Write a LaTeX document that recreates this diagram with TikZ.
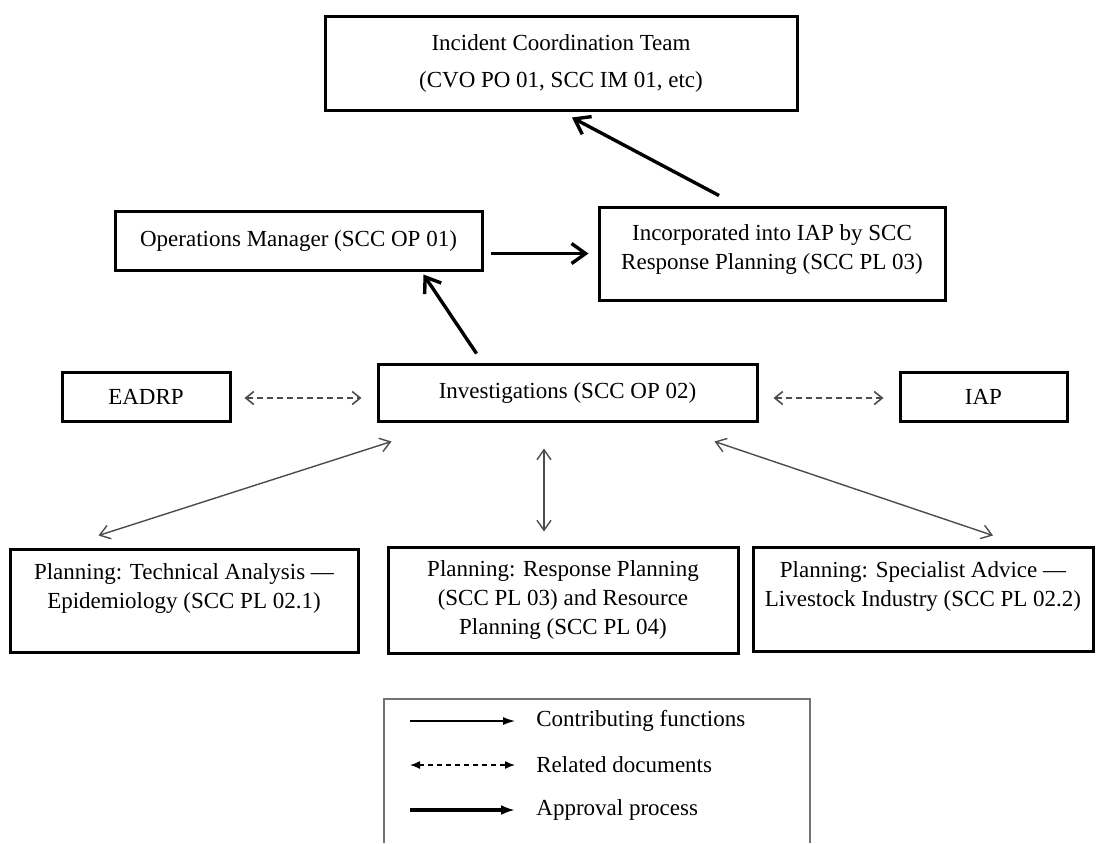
\documentclass[tikz,border=0pt]{standalone}
\usepackage{fontspec}
\setmainfont{Liberation Serif}
\usetikzlibrary{arrows.meta,calc}

\definecolor{linkgray}{gray}{0.3}
\definecolor{framegray}{gray}{0.45}

\newcommand\txtfont{\fontsize{11.5}{14.5}\selectfont}
\newcommand\boxnode[6]{
		\node (#1) at (#2,#3) [box,minimum width=#4*0.5pt,minimum height=#5*0.5pt] {#6};
	}

\tikzset{
	box/.style={draw,line width=1.5pt,align=center,inner sep=0pt,font=\txtfont},
	approve/.style={line width=1.7pt,-{Straight Barb[length=7pt,width=10pt]}},
	contrib/.style={draw=linkgray,line width=0.7pt,{Straight Barb[length=5pt,width=7pt]}-{Straight Barb[length=5pt,width=7pt]}},
	related/.style={draw=linkgray,line width=0.8pt,dash pattern=on 3pt off 2pt,{Straight Barb[length=4pt,width=6.5pt]}-{Straight Barb[length=4pt,width=6.5pt]}},
	legcontrib/.style={line width=0.6pt,-{Latex[length=6pt,width=4pt]}},
	legrelated/.style={line width=0.7pt,dash pattern=on 2.5pt off 2pt,{Latex[length=5pt,width=4pt]}-{Latex[length=5pt,width=4pt]}},
	legapprove/.style={line width=1.8pt,-{Latex[length=7pt,width=5pt]}}
}

\begin{document}
\begin{tikzpicture}[x=0.5pt,y=-0.5pt]
		\useasboundingbox (0,0) rectangle (1099,843);

		% draw top boxes
		\boxnode{ict}{561}{63}{472}{94}{Incident Coordination Team\\[4pt](CVO PO 01, SCC IM 01, etc)}
		\boxnode{ops}{298.5}{240.5}{367}{59}{Operations Manager (SCC OP 01)}
		\boxnode{inc}{772}{253.5}{346}{93}{Incorporated into IAP by SCC\\Response Planning (SCC PL 03)\\[-8pt]\mbox{}}

		% draw middle row
		\boxnode{inv}{567.5}{392.5}{379}{57}{Investigations (SCC OP 02)}
		\boxnode{eadrp}{146}{396.5}{168}{49}{EADRP}
		\boxnode{iap}{983.5}{396.5}{167}{49}{IAP}

		% draw planning boxes
		\boxnode{plan1}{184}{600.5}{348}{103}{Planning: Technical Analysis —\\Epidemiology (SCC PL 02.1)\\\mbox{}}
		\boxnode{plan2}{563}{600}{350}{106}{Planning: Response Planning\\(SCC PL 03) and Resource\\Planning (SCC PL 04)}
		\boxnode{plan3}{923}{599}{340}{104}{Planning: Specialist Advice —\\Livestock Industry (SCC PL 02.2)\\\mbox{}}

		% draw approval arrows
		\draw[approve] ($(inc.north)+(-53,-10)$) -- ($(ict.south)+(11,6)$);
		\draw[approve] ($(ops.east |- inc.west)+(7,0)$) -- ($(inc.west)+(-9,0)$);
		\draw[approve] ($(inv.north west)+(100,-9)$) -- ($(ops.south east)+(-60,3)$);

		% draw related documents
		\draw[related] ($(eadrp.east)+(13,1.5)$) -- ($(eadrp.east -| inv.west)+(-15,1.5)$);
		\draw[related] ($(iap.west -| inv.east)+(15,1.5)$) -- ($(iap.west)+(-15,1.5)$);

		% draw contributing functions
		\draw[contrib] ($(plan1.north west)+(90,-12)$) -- ($(inv.south west)+(15,19)$);
		\draw[contrib] ($(plan2.north)+(-19,-14)$) -- ($(plan2.north |- inv.south)+(-19,26)$);
		\draw[contrib] ($(plan3.north)+(70,-10)$) -- ($(inv.south east)+(-44,19)$);

		% draw legend
		\draw[framegray,line width=0.8pt] (384,843) -- (384,699) -- (810,699) -- (810,843);
		\foreach \i/\y/\sty/\txt in {1/721/legcontrib/Contributing functions,2/765/legrelated/Related documents,3/810/legapprove/Approval process}
		{
			\node (leg\i) at (536,\y) [anchor=west,inner sep=0pt,font=\txtfont] {\txt};
			\draw[\sty] ($(leg\i.west)+(-126,0)$) -- ($(leg\i.west)+(-21,0)$);
		}
	\end{tikzpicture}
\end{document}
